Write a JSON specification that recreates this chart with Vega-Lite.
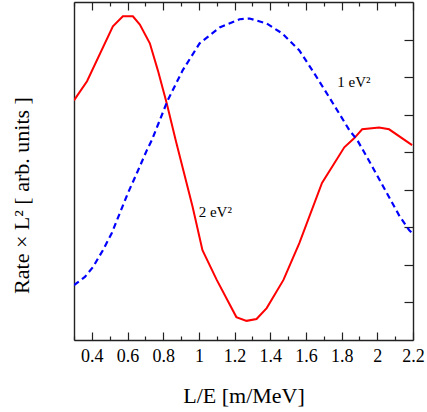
{
  "$schema": "https://vega.github.io/schema/vega-lite/v6.json",
  "width": 339,
  "height": 338,
  "autosize": {"type": "none"},
  "padding": {"left": 74, "top": 2, "right": 14, "bottom": 72},
  "background": "white",
  "config": {
    "view": {"stroke": null},
    "axis": {
      "domainColor": "#222",
      "domainWidth": 1.4,
      "tickColor": "#222",
      "tickWidth": 1.2,
      "grid": false,
      "labelFont": "Liberation Serif",
      "labelFontSize": 18,
      "labelColor": "black",
      "titleFont": "Liberation Serif",
      "titleFontWeight": "normal",
      "titleFontSize": 22,
      "titleColor": "black"
    }
  },
  "datasets": {
    "red": [
      {"le": 0.30, "rate": 6.38},
      {"le": 0.373, "rate": 6.89},
      {"le": 0.518, "rate": 8.35},
      {"le": 0.574, "rate": 8.62},
      {"le": 0.63, "rate": 8.62},
      {"le": 0.669, "rate": 8.40},
      {"le": 0.725, "rate": 7.90},
      {"le": 0.77, "rate": 7.18},
      {"le": 0.82, "rate": 6.30},
      {"le": 0.87, "rate": 5.32},
      {"le": 0.965, "rate": 3.54},
      {"le": 1.02, "rate": 2.39},
      {"le": 1.10, "rate": 1.60},
      {"le": 1.21, "rate": 0.61},
      {"le": 1.267, "rate": 0.51},
      {"le": 1.323, "rate": 0.56},
      {"le": 1.38, "rate": 0.85},
      {"le": 1.474, "rate": 1.60},
      {"le": 1.563, "rate": 2.58},
      {"le": 1.69, "rate": 4.18},
      {"le": 1.815, "rate": 5.13},
      {"le": 1.87, "rate": 5.37},
      {"le": 1.915, "rate": 5.61},
      {"le": 2.01, "rate": 5.66},
      {"le": 2.066, "rate": 5.61},
      {"le": 2.195, "rate": 5.19}
    ],
    "blue": [
      {"le": 0.30, "rate": 1.46},
      {"le": 0.361, "rate": 1.68},
      {"le": 0.406, "rate": 1.94},
      {"le": 0.462, "rate": 2.39},
      {"le": 0.512, "rate": 2.85},
      {"le": 0.557, "rate": 3.38},
      {"le": 0.602, "rate": 3.91},
      {"le": 0.652, "rate": 4.44},
      {"le": 0.708, "rate": 5.05},
      {"le": 0.736, "rate": 5.32},
      {"le": 0.825, "rate": 6.38},
      {"le": 0.909, "rate": 7.18},
      {"le": 1.004, "rate": 7.90},
      {"le": 1.116, "rate": 8.32},
      {"le": 1.228, "rate": 8.54},
      {"le": 1.284, "rate": 8.56},
      {"le": 1.379, "rate": 8.43},
      {"le": 1.468, "rate": 8.16},
      {"le": 1.563, "rate": 7.71},
      {"le": 1.636, "rate": 7.18},
      {"le": 1.731, "rate": 6.46},
      {"le": 1.843, "rate": 5.59},
      {"le": 1.888, "rate": 5.32},
      {"le": 1.955, "rate": 4.76},
      {"le": 2.05, "rate": 3.94},
      {"le": 2.122, "rate": 3.32},
      {"le": 2.178, "rate": 2.93},
      {"le": 2.195, "rate": 2.85}
    ],
    "labels": [
      {"le": 1.776, "rate": 6.73, "text": "1 eV²"},
      {"le": 0.999, "rate": 3.27, "text": "2 eV²"}
    ]
  },
  "layer": [
    {
      "data": {"name": "red"},
      "mark": {"type": "line", "color": "#ff0000", "strokeWidth": 2, "clip": true},
      "encoding": {
        "x": {
          "field": "le", "type": "quantitative",
          "scale": {"domain": [0.3, 2.2], "nice": false, "zero": false},
          "axis": {
            "orient": "bottom",
            "title": "L/E [m/MeV]",
            "titleBaseline": "alphabetic",
            "titleY": 62,
            "values": [0.3, 0.4, 0.5, 0.6, 0.7, 0.8, 0.9, 1, 1.1, 1.2, 1.3, 1.4, 1.5, 1.6, 1.7, 1.8, 1.9, 2, 2.1, 2.2],
            "labelExpr": "round(datum.value*10)%2==0 ? format(datum.value,'~g') : ''",
            "tickSize": {"condition": {"test": "round(datum.value*10)%2==0", "value": -8}, "value": -4},
            "labelPadding": 15,
            "labelFlush": false,
            "labelOverlap": false
          }
        },
        "y": {
          "field": "rate", "type": "quantitative",
          "scale": {"domain": [0, 9], "nice": false, "zero": false},
          "axis": {
            "orient": "left",
            "title": "Rate × L² [ arb. units ]",
            "ticks": false,
            "labels": false,
            "titleX": -46,
            "titleY": 193,
            "titleBaseline": "alphabetic"
          }
        }
      }
    },
    {
      "data": {"name": "blue"},
      "mark": {"type": "line", "color": "#0000ff", "strokeWidth": 2.2, "strokeDash": [6, 4], "clip": true},
      "encoding": {
        "x": {
          "field": "le", "type": "quantitative",
          "scale": {"domain": [0.3, 2.2], "nice": false, "zero": false},
          "axis": {
            "orient": "top",
            "title": null,
            "labels": false,
            "values": [0.3, 0.4, 0.5, 0.6, 0.7, 0.8, 0.9, 1, 1.1, 1.2, 1.3, 1.4, 1.5, 1.6, 1.7, 1.8, 1.9, 2, 2.1, 2.2],
            "tickSize": {"condition": {"test": "round(datum.value*10)%2==0", "value": -8}, "value": -4}
          }
        },
        "y": {
          "field": "rate", "type": "quantitative",
          "scale": {"domain": [0, 9], "nice": false, "zero": false},
          "axis": {
            "orient": "right",
            "title": null,
            "labels": false,
            "values": [1, 2, 3, 4, 5, 6, 7, 8],
            "tickSize": -9
          }
        }
      }
    },
    {
      "data": {"name": "labels"},
      "mark": {"type": "text", "font": "Liberation Serif", "fontSize": 15, "align": "left", "baseline": "alphabetic", "color": "black"},
      "encoding": {
        "x": {"field": "le", "type": "quantitative", "axis": null},
        "y": {"field": "rate", "type": "quantitative", "axis": null},
        "text": {"field": "text"}
      }
    }
  ],
  "resolve": {"axis": {"x": "independent", "y": "independent"}}
}
